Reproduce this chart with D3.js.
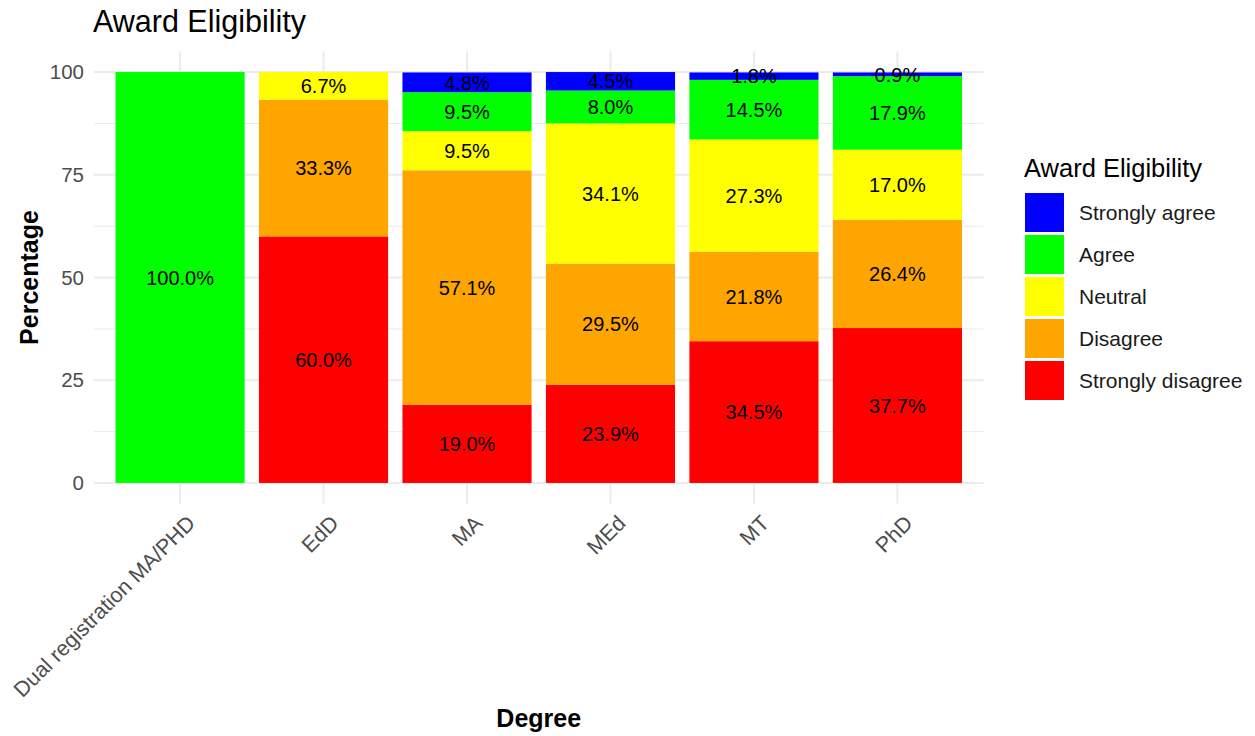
<!DOCTYPE html>
<html>
<head>
<meta charset="utf-8">
<script src="https://cdn.jsdelivr.net/npm/d3@7"></script>
<style>
  html, body { margin: 0; padding: 0; background: #ffffff; }
  svg { display: block; font-family: "Liberation Sans", Arial, sans-serif; }
</style>
</head>
<body>
<svg id="chart" width="1255" height="736"></svg>
<script>
// Degree programmes along the x axis
const degrees = ["Dual registration MA/PHD", "EdD", "MA", "MEd", "MT", "PhD"];

// Response levels, bottom of the stack first
const levels = ["Strongly disagree", "Disagree", "Neutral", "Agree", "Strongly agree"];
const levelColors = ["#ff0000", "#ffa500", "#ffff00", "#00ff00", "#0000ff"];

// Percentage of respondents per level, one array per level, in degree order
const stronglyDisagree = [0, 60.0, 19.0, 23.9, 34.5, 37.7];
const disagree         = [0, 33.3, 57.1, 29.5, 21.8, 26.4];
const neutral          = [0, 6.7, 9.5, 34.1, 27.3, 17.0];
const agree            = [100.0, 0, 9.5, 8.0, 14.5, 17.9];
const stronglyAgree    = [0, 0, 4.8, 4.5, 1.8, 0.9];

const yTicks = [0, 25, 50, 75, 100];
const yMinorTicks = [12.5, 37.5, 62.5, 87.5];

const series = [stronglyDisagree, disagree, neutral, agree, stronglyAgree];

const rows = degrees.map((d, i) => {
  const r = { degree: d };
  levels.forEach((lv, j) => { r[lv] = series[j][i]; });
  return r;
});

const stacked = d3.stack().keys(levels)(rows);

const svg = d3.select("#chart");

// Panel geometry
const panel = { left: 94, right: 983.5, top: 51.5, bottom: 503.5 };

// Discrete x: 0.6-band padding on each side, bars 0.9 of a band
const n = degrees.length;
const step = (panel.right - panel.left) / (n - 1 + 1.2);
const x = d3.scalePoint().domain(degrees)
  .range([panel.left + 0.6 * step, panel.right - 0.6 * step]);
const barW = 0.9 * step;

// Continuous y with 5% expansion
const y = d3.scaleLinear().domain([-5, 105]).range([panel.bottom, panel.top]);

const color = d3.scaleOrdinal().domain(levels).range(levelColors);

// Grid
const grid = svg.append("g");
grid.selectAll("line.minor").data(yMinorTicks).join("line")
  .attr("x1", panel.left).attr("x2", panel.right)
  .attr("y1", d => y(d)).attr("y2", d => y(d))
  .attr("stroke", "#ebebeb").attr("stroke-width", 1);
grid.selectAll("line.major").data(yTicks).join("line")
  .attr("x1", panel.left).attr("x2", panel.right)
  .attr("y1", d => y(d)).attr("y2", d => y(d))
  .attr("stroke", "#ebebeb").attr("stroke-width", 2);
grid.selectAll("line.vx").data(degrees).join("line")
  .attr("x1", d => x(d)).attr("x2", d => x(d))
  .attr("y1", panel.top).attr("y2", panel.bottom)
  .attr("stroke", "#ebebeb").attr("stroke-width", 2);

// Stacked bars
const layers = svg.append("g").selectAll("g").data(stacked).join("g")
  .attr("fill", d => color(d.key));
layers.selectAll("rect").data(d => d.filter(s => s[1] - s[0] > 0)).join("rect")
  .attr("x", d => x(d.data.degree) - barW / 2)
  .attr("width", barW)
  .attr("y", d => y(d[1]))
  .attr("height", d => y(d[0]) - y(d[1]));

// Value labels centred in each segment
const labels = svg.append("g")
  .attr("font-size", 20).attr("fill", "#000").attr("text-anchor", "middle");
stacked.forEach(layer => {
  layer.forEach(s => {
    const v = s[1] - s[0];
    if (v <= 0) return;
    labels.append("text")
      .attr("x", x(s.data.degree))
      .attr("y", y((s[0] + s[1]) / 2))
      .attr("dy", "0.36em")
      .text(s.data[layer.key].toFixed(1) + "%");
  });
});

// Y axis tick labels
const yAxis = d3.axisLeft(y).tickValues(yTicks).tickSize(0).tickPadding(10);
const yg = svg.append("g").attr("transform", `translate(${panel.left},0)`).call(yAxis);
yg.select(".domain").remove();
yg.selectAll("text").attr("font-size", 20.5).attr("fill", "#4d4d4d")
  .attr("font-family", "Liberation Sans, Arial, sans-serif");

// X axis tick labels, rotated 45 degrees
const xAxis = d3.axisBottom(x).tickSize(0).tickPadding(0);
const xg = svg.append("g").attr("transform", `translate(0,${panel.bottom})`).call(xAxis);
xg.select(".domain").remove();
xg.selectAll("text")
  .attr("font-size", 21.5).attr("fill", "#4d4d4d")
  .attr("font-family", "Liberation Sans, Arial, sans-serif")
  .attr("text-anchor", "end")
  .attr("dy", null).attr("y", 0)
  .attr("transform", "translate(16,21) rotate(-45)");

// Titles
svg.append("text").attr("x", 93).attr("y", 32)
  .attr("font-size", 30.5).attr("fill", "#000").text("Award Eligibility");
svg.append("text").attr("x", (panel.left + panel.right) / 2).attr("y", 727)
  .attr("text-anchor", "middle").attr("font-size", 25).attr("font-weight", "bold")
  .attr("fill", "#000").text("Degree");
svg.append("text")
  .attr("transform", `translate(38,${(panel.top + panel.bottom) / 2}) rotate(-90)`)
  .attr("text-anchor", "middle").attr("font-size", 25).attr("font-weight", "bold")
  .attr("fill", "#000").text("Percentage");

// Legend, top level first
const legend = svg.append("g").attr("transform", "translate(1024,0)");
legend.append("text").attr("x", 0).attr("y", 177)
  .attr("font-size", 25.5).attr("fill", "#000").text("Award Eligibility");
const legendOrder = levels.slice().reverse();
const items = legend.selectAll("g.item").data(legendOrder).join("g")
  .attr("transform", (d, i) => `translate(0,${193 + i * 42})`);
items.append("rect").attr("x", 1).attr("width", 39).attr("height", 39)
  .attr("fill", d => color(d));
items.append("text").attr("x", 55).attr("y", 19.5).attr("dy", "0.36em")
  .attr("font-size", 21).attr("fill", "#1a1a1a").text(d => d);
</script>
</body>
</html>
